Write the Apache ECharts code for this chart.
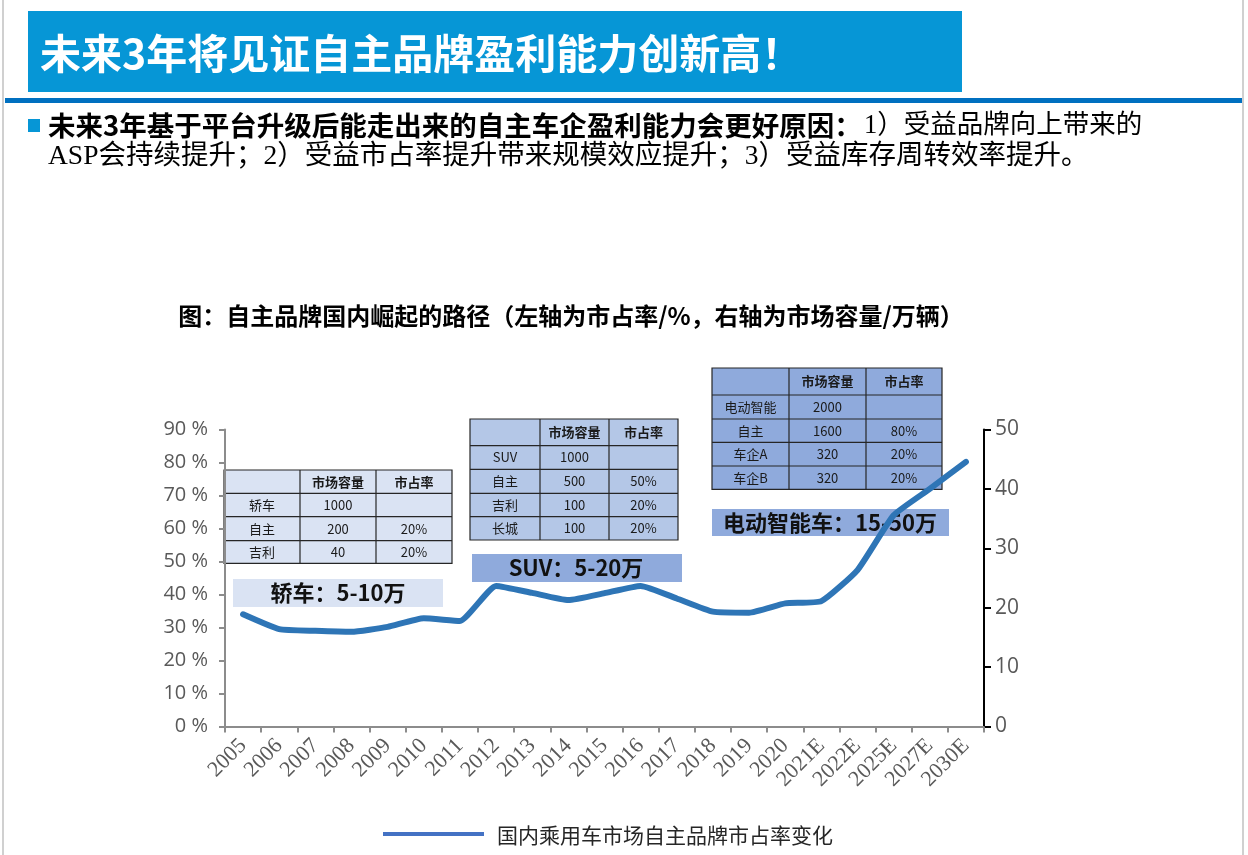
<!DOCTYPE html>
<html><head><meta charset="utf-8">
<script src="https://cdn.jsdelivr.net/npm/echarts@6/dist/echarts.min.js"></script>
<style>html,body{margin:0;padding:0;background:#fff}#c{width:1248px;height:855px}</style>
</head><body><div id="c"></div><script>
// ---- data ----
const categories = ['2005','2006','2007','2008','2009','2010','2011','2012','2013','2014','2015','2016','2017','2018','2019','2020','2021E','2022E','2025E','2027E','2030E'];
const shareValues = [34.0, 29.5, 29.0, 28.7, 30.2, 32.8, 32.0, 42.6, 40.5, 38.3, 40.4, 42.6, 38.8, 34.8, 34.5, 37.3, 38.0, 47.4, 64.0, 72.0, 80.2];
const seriesName = '国内乘用车市场自主品牌市占率变化';
const tableHeader = ['', '市场容量', '市占率'];
const sedanRows = [['轿车','1000',''],['自主','200','20%'],['吉利','40','20%']];
const suvRows = [['SUV','1000',''],['自主','500','50%'],['吉利','100','20%'],['长城','100','20%']];
const evRows = [['电动智能','2000',''],['自主','1600','80%'],['车企A','320','20%'],['车企B','320','20%']];
const segmentLabels = ['轿车：5-10万', 'SUV：5-20万', '电动智能车：15-50万'];
const pageTitle = '未来3年将见证自主品牌盈利能力创新高！';
const bulletBold = '未来3年基于平台升级后能走出来的自主车企盈利能力会更好原因：';
const bulletNormal1 = '1）受益品牌向上带来的';
const bulletLine2 = 'ASP会持续提升；2）受益市占率提升带来规模效应提升；3）受益库存周转效率提升。';
const chartTitle = '图：自主品牌国内崛起的路径（左轴为市占率/%，右轴为市场容量/万辆）';

const CJK = '"Noto Sans CJK SC", "Noto Sans", sans-serif';
const SERIF_CJK = '"Liberation Serif", "Noto Sans CJK SC", serif';

function buildTable(x, y, colW, rowH, rows, fill) {
  const all = [tableHeader].concat(rows);
  const children = [];
  const totalW = colW.reduce((a,b)=>a+b,0);
  const totalH = rowH.reduce((a,b)=>a+b,0);
  children.push({type:'rect', shape:{x:x, y:y, width:totalW, height:totalH}, style:{fill:fill, stroke:'#262626', lineWidth:1.2}});
  let cy = y;
  for (let r = 0; r < all.length; r++) {
    if (r > 0) children.push({type:'line', shape:{x1:x, y1:cy, x2:x+totalW, y2:cy}, style:{stroke:'#262626', lineWidth:1.2}});
    let cx = x;
    for (let c = 0; c < 3; c++) {
      if (r === 0 && c > 0) children.push({type:'line', shape:{x1:cx, y1:y, x2:cx, y2:y+totalH}, style:{stroke:'#262626', lineWidth:1.2}});
      const t = all[r][c];
      if (t) children.push({type:'text', x: cx + colW[c]/2, y: cy + rowH[r]/2,
        style:{text:t, fill:'#1a1a1a', font:(r===0?'bold ':'') + '13px ' + CJK, textAlign:'center', textVerticalAlign:'middle'}});
      cx += colW[c];
    }
    cy += rowH[r];
  }
  return {type:'group', z: 100, children: children};
}

function labelBox(x, y, w, h, text, fill, tx) {
  return {type:'group', z: 100, children:[
    {type:'rect', shape:{x:x, y:y, width:w, height:h}, style:{fill:fill}},
    {type:'text', x: tx, y: y + h/2, style:{text:text, fill:'#111', font:'bold 22px ' + CJK, textAlign:'center', textVerticalAlign:'middle'}}
  ]};
}

const chart = echarts.init(document.getElementById('c'), null, {renderer:'canvas'});
const option = {
  backgroundColor: '#ffffff',
  animation: false,
  grid: {left: 225, right: 264, top: 429.5, bottom: 128.5, containLabel: false},
  xAxis: {
    type: 'category', data: categories, boundaryGap: true,
    axisLine: {show: true, lineStyle: {color: '#8c8c8c', width: 2}},
    axisTick: {show: true, inside: false, length: 6, lineStyle: {color: '#8c8c8c', width: 2}},
    axisLabel: {rotate: 45, margin: 16, interval: 0, color: '#595959', fontSize: 22, fontFamily: '"Liberation Serif", serif'},
    splitLine: {show: false}
  },
  yAxis: [
    {type: 'value', min: 0, max: 90, interval: 10, position: 'left',
     axisLine: {show: true, lineStyle: {color: '#8c8c8c', width: 2}},
     axisTick: {show: true, length: 6, lineStyle: {color: '#8c8c8c', width: 2}},
     axisLabel: {formatter: '{value} %', margin: 17, color: '#595959', fontSize: 20, fontFamily: '"Open Sans", "Liberation Sans", sans-serif'},
     splitLine: {show: false}},
    {type: 'value', min: 0, max: 50, interval: 10, position: 'right',
     axisLine: {show: true, lineStyle: {color: '#000', width: 2}},
     axisTick: {show: true, length: 7, lineStyle: {color: '#000', width: 2}},
     axisLabel: {margin: 11, color: '#595959', fontSize: 21, fontFamily: '"Open Sans", "Liberation Sans", sans-serif'},
     splitLine: {show: false}}
  ],
  series: [{
    name: seriesName, type: 'line', yAxisIndex: 0, data: shareValues,
    smooth: 0.15, showSymbol: false, symbol: 'none',
    lineStyle: {color: '#2E75B6', width: 6, cap: 'round', join: 'round'}, z: 5
  }],
  graphic: [
    {type:'rect', shape:{x:2, y:0, width:2, height:855}, style:{fill:'#d0d0d0'}},
    {type:'rect', shape:{x:1242, y:0, width:2, height:855}, style:{fill:'#d0d0d0'}},
    {type:'rect', shape:{x:28, y:11, width:934, height:81}, style:{fill:'#0696D6'}},
    {type:'text', x:40, y:53, style:{text:pageTitle, fill:'#fff', font:'bold 41px ' + CJK, textVerticalAlign:'middle'}},
    {type:'rect', shape:{x:5, y:98, width:1237, height:5}, style:{fill:'#0070C0'}},
    {type:'rect', shape:{x:28, y:119, width:12, height:13}, style:{fill:'#0696D6'}},
    {type:'text', x:48, y:126, style:{
      text:'{b|' + bulletBold + '}{s| }{n|' + bulletNormal1 + '}',
      textVerticalAlign:'middle',
      rich:{b:{font:'bold 27.5px ' + CJK, fill:'#000'}, s:{font:'8px sans-serif'}, n:{font:'26.5px ' + SERIF_CJK, fill:'#000'}}}},
    {type:'text', x:48, y:157, style:{text:bulletLine2, fill:'#000', font:'27.5px ' + SERIF_CJK, textVerticalAlign:'middle'}},
    {type:'text', x:571, y:316, style:{text:chartTitle, fill:'#000', font:'bold 24px ' + CJK, textAlign:'center', textVerticalAlign:'middle'}},
    buildTable(224, 470, [76, 76, 76], [23.3, 23.3, 24, 22.7], sedanRows, '#DAE3F3'),
    buildTable(470, 419, [70, 69, 69], [26.7, 23.6, 24, 23.4, 23.3], suvRows, '#B4C7E7'),
    buildTable(712, 368, [77, 77, 76], [27, 24, 23.3, 23.7, 23.3], evRows, '#8FAADC'),
    labelBox(233, 579, 210, 28, segmentLabels[0], '#DAE3F3', 338),
    labelBox(472, 554, 210, 28, segmentLabels[1], '#8FAADC', 576),
    labelBox(712, 509, 237, 27, segmentLabels[2], '#8FAADC', 830),
    {type:'rect', shape:{x:383, y:832, width:101, height:4}, style:{fill:'#4472C4'}},
    {type:'text', x:497, y:835, style:{text:seriesName, fill:'#262626', font:'21px ' + CJK, textVerticalAlign:'middle'}}
  ]
};
chart.setOption(option);
</script></body></html>
